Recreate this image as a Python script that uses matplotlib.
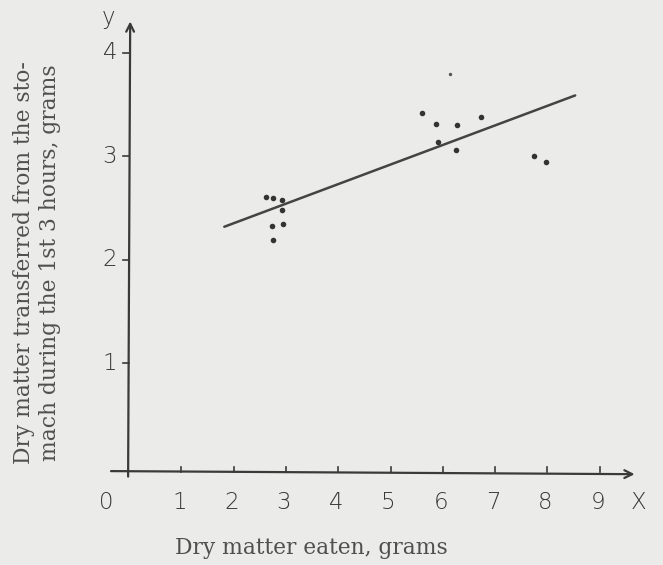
import matplotlib
matplotlib.use("Agg")
import matplotlib.pyplot as plt
import numpy as np

# Data
food_eaten = [2.61, 2.75, 2.93, 2.92, 2.73, 2.94, 2.76,
              5.60, 5.87, 6.27, 6.73, 5.90, 6.25, 7.75, 7.97]
transferred = [2.61, 2.60, 2.58, 2.48, 2.33, 2.35, 2.19,
               3.42, 3.31, 3.30, 3.38, 3.14, 3.06, 3.00, 2.95]
faint_x = [6.14]
faint_y = [3.80]
fit_x = [1.82, 8.53]
fit_intercept = 1.976
fit_slope = 0.189
x_ticks = [1, 2, 3, 4, 5, 6, 7, 8, 9]
y_ticks = [1, 2, 3, 4]

bg = "#ebebe9"
ink = "#3a3a3a"
txt = "#505050"

fig = plt.figure(figsize=(6.63, 5.65), dpi=100, facecolor=bg)
ax = fig.add_axes([0, 0, 1, 1])
ax.set_facecolor(bg)
ax.set_xlim(-2.47, 10.21)
ax.set_ylim(-0.947, 4.51)
ax.axis("off")

# axes with arrows
ax.annotate("", xy=(9.72, -0.07), xytext=(-0.40, -0.04),
            arrowprops=dict(arrowstyle="->", color=ink, lw=1.6,
                            mutation_scale=14))
ax.annotate("", xy=(0.02, 4.33), xytext=(-0.02, -0.12),
            arrowprops=dict(arrowstyle="->", color=ink, lw=1.6,
                            mutation_scale=14))

hand = dict(color="#383838", fontsize=16.5, family="DejaVu Sans",
            fontweight="light", ha="center", va="center")
# x ticks
for t in x_ticks:
    ax.plot([t, t], [-0.05, 0.0], color=ink, lw=1.2)
    ax.text(t - 0.04, -0.34, str(t), **hand)
ax.text(-0.43, -0.34, "0", **hand)
ax.text(9.74, -0.34, "X", **hand)
# y ticks
for t in y_ticks:
    ax.plot([-0.12, 0.0], [t, t], color=ink, lw=1.2)
    ax.text(-0.37, t, str(t), **hand)
ax.text(-0.40, 4.34, "y", **hand)

# regression line
fx = np.array(fit_x)
ax.plot(fx, fit_intercept + fit_slope * fx, color="#444444", lw=1.8,
        solid_capstyle="round")

# points
ax.scatter(food_eaten, transferred, s=16, color="#333333", zorder=3,
           linewidths=0)
ax.scatter(faint_x, faint_y, s=6, color="#555555", zorder=3, linewidths=0)

serif = dict(family="DejaVu Serif", color=txt, fontsize=15.7)
fig.text(0.056, 0.535,
         "Dry matter transferred from the sto-\nmach during the 1st 3 hours, grams",
         rotation=90, ha="center", va="center", linespacing=1.25, **serif)
fig.text(0.47, 0.03, "Dry matter eaten, grams", ha="center", va="center",
         **serif)

fig.savefig("out.png", dpi=100, facecolor=bg)
